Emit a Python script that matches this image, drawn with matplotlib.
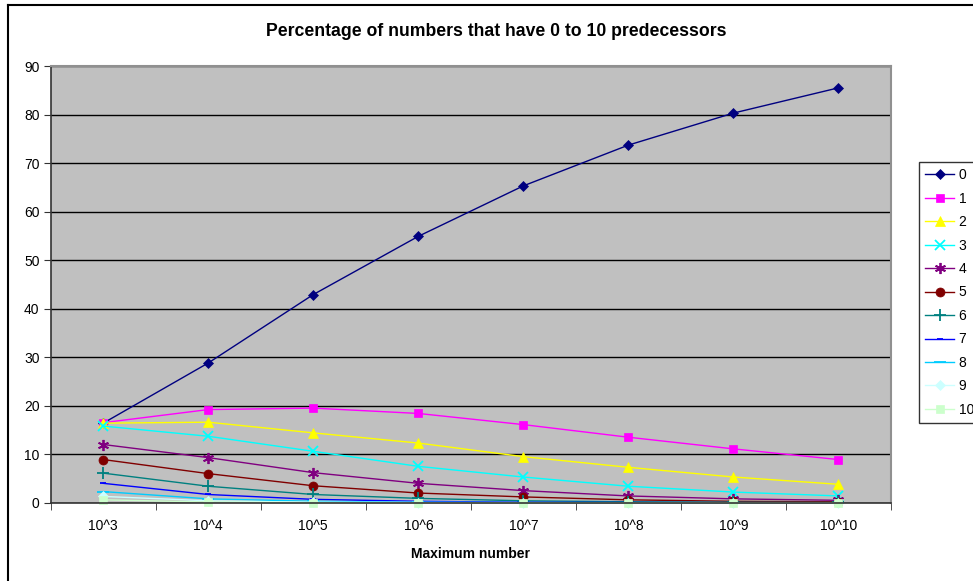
import matplotlib
matplotlib.use("Agg")
import matplotlib.pyplot as plt
from matplotlib.lines import Line2D

plt.rcParams['font.family'] = ['Liberation Sans', 'DejaVu Sans']

categories = ["10^3", "10^4", "10^5", "10^6", "10^7", "10^8", "10^9", "10^10"]
series_names = ["0", "1", "2", "3", "4", "5", "6", "7", "8", "9", "10"]

# percentage of numbers with k predecessors, k = 0..10
p0 = [16.4, 28.8, 42.9, 54.9, 65.3, 73.7, 80.3, 85.5]
p1 = [16.5, 19.2, 19.5, 18.4, 16.1, 13.5, 11.1, 8.9]
p2 = [16.4, 16.6, 14.4, 12.3, 9.5, 7.3, 5.3, 3.8]
p3 = [15.8, 13.7, 10.6, 7.5, 5.3, 3.4, 2.2, 1.4]
p4 = [12.0, 9.3, 6.2, 4.0, 2.5, 1.4, 0.8, 0.5]
p5 = [8.9, 6.0, 3.5, 2.0, 1.2, 0.6, 0.3, 0.2]
p6 = [6.1, 3.4, 1.7, 0.9, 0.4, 0.2, 0.1, 0.05]
p7 = [4.0, 1.7, 0.7, 0.3, 0.1, 0.05, 0.02, 0.01]
p8 = [2.3, 0.8, 0.3, 0.1, 0.04, 0.01, 0.01, 0.0]
p9 = [1.3, 0.4, 0.1, 0.04, 0.01, 0.0, 0.0, 0.0]
p10 = [0.6, 0.15, 0.04, 0.01, 0.0, 0.0, 0.0, 0.0]
values = [p0, p1, p2, p3, p4, p5, p6, p7, p8, p9, p10]

colors = ['#000080', '#FF00FF', '#FFFF00', '#00FFFF', '#800080', '#800000',
          '#008080', '#0000FF', '#00CCFF', '#CCFFFF', '#CCFFCC']
markers = ['D', 's', '^', 'x', (6, 2, 0), 'o', '+', '_', '_', 'D', 's']
msizes = [5, 6, 7, 7, 8, 6.5, 8, 4.5, 8, 5, 6]

fig = plt.figure(figsize=(9.73, 5.81), dpi=100)
ax = fig.add_axes([0.0521, 0.1347, 0.8636, 0.7517])
ax.set_facecolor('#C0C0C0')

x = list(range(len(categories)))
for name, vals, c, m, ms in zip(series_names, values, colors, markers, msizes):
    ax.plot(x, vals, color=c, marker=m, markersize=ms, linewidth=1.0,
            markeredgewidth=1.3 if m in ('x', '+', '_') or isinstance(m, tuple) else 0.5,
            markeredgecolor=c, label=name, clip_on=False)

ax.set_xlim(-0.5, 7.5)
ax.set_ylim(0, 90)
ax.set_yticks(range(0, 91, 10))
ax.yaxis.grid(True, color='black', linewidth=1.0)
ax.set_axisbelow(True)

ax.set_xticks(x)
ax.set_xticklabels(categories)
ax.set_xticks([i - 0.5 for i in range(len(categories) + 1)], minor=True)
ax.tick_params(axis='x', which='major', length=0, pad=12, labelsize=10)
ax.tick_params(axis='x', which='minor', length=5, direction='out', color='#333333')
ax.tick_params(axis='y', length=5, direction='out', color='#333333', labelsize=10, pad=3)

for s in ('left', 'bottom'):
    ax.spines[s].set_color('#333333')
    ax.spines[s].set_linewidth(1.2)
for s in ('top', 'right'):
    ax.spines[s].set_color('#909090')
    ax.spines[s].set_linewidth(1.5)

ax.set_xlabel('Maximum number', fontsize=10, fontweight='bold', labelpad=10)
fig.text(496 / 973, 1 - 32 / 581, 'Percentage of numbers that have 0 to 10 predecessors',
         ha='center', va='center', fontsize=12.7, fontweight='bold')

leg = ax.legend(loc='upper left', bbox_to_anchor=(919 / 973, 1 - 162 / 581),
                bbox_transform=fig.transFigure, frameon=True, fancybox=False,
                edgecolor='black', fontsize=10, handlelength=2.1, handletextpad=0.3,
                labelspacing=0.68, borderpad=0.45, borderaxespad=0)
leg.get_frame().set_linewidth(1.0)

# outer chart border (left and top edges)
fig.add_artist(Line2D([8 / 973, 8 / 973], [0, 1 - 5 / 581], color='black',
                      linewidth=1.5, transform=fig.transFigure))
fig.add_artist(Line2D([8 / 973, 1], [1 - 5 / 581, 1 - 5 / 581], color='black',
                      linewidth=1.5, transform=fig.transFigure))

fig.savefig('out.png', dpi=100)
